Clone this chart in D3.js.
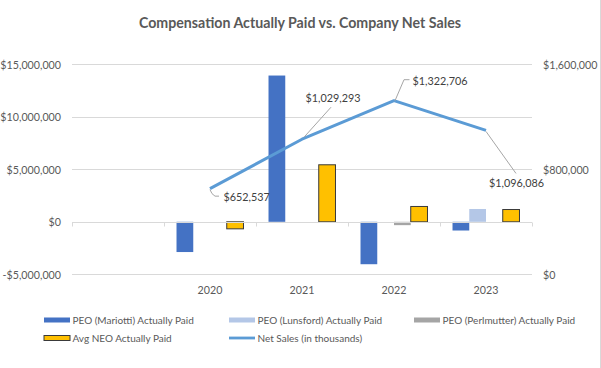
<!DOCTYPE html>
<html><head><meta charset="utf-8">
<script src="https://cdn.jsdelivr.net/npm/d3@7"></script>
<style>
body{margin:0;background:#fff;}
svg{display:block;font-family:Lato,"Open Sans",sans-serif;}
</style></head>
<body>
<script>
const categories = ["", "2020", "2021", "2022", "2023"];
const years = ["2020", "2021", "2022", "2023"];
const mariotti = [-2880000, 13930000, -4040000, -830000];
const lunsford = [null, null, null, 1220000];
const perlmutter = [null, null, -320000, null];
const avgNeo = [-670000, 5430000, 1460000, 1170000];
const netSales = [652537, 1029293, 1322706, 1096086];
const leftTicks = [-5000000, 0, 5000000, 10000000, 15000000];
const rightTicks = [0, 800000, 1600000];
const seriesNames = ["PEO (Mariotti) Actually Paid", "PEO (Lunsford) Actually Paid", "PEO (Perlmutter) Actually Paid", "Avg NEO Actually Paid", "Net Sales (in thousands)"];
const title = "Compensation Actually Paid vs. Company Net Sales";

const W = 601, H = 368;
const colors = ["#4472C4", "#B4C7E7", "#A5A5A5", "#FFC000", "#5B9BD5"];
const barSeries = [mariotti, lunsford, perlmutter, avgNeo];

const svg = d3.select("body").append("svg").attr("width", W).attr("height", H);
svg.append("rect").attr("width", W).attr("height", H).attr("fill", "#fff");
svg.append("line").attr("x1", 600.5).attr("x2", 600.5).attr("y1", 0).attr("y2", H).attr("stroke", "#D9D9D9");

const x = d3.scaleBand().domain(categories).range([72, 532]).paddingInner(0).paddingOuter(0);
const yL = d3.scaleLinear().domain([-5000000, 15000000]).range([274.3, 64.3]);
const yR = d3.scaleLinear().domain([0, 1600000]).range([274.3, 64.3]);
const bw = x.bandwidth();
const inner = d3.scaleBand().domain([0, 1, 2, 3]).range([0, bw * 0.728]);

const txt = "#595959";
const axisFont = 10.7;
svg.append("text").attr("x", 300).attr("y", 22).attr("text-anchor", "middle")
  .attr("dominant-baseline", "central").attr("font-weight", "bold").attr("font-size", 14.2)
  .attr("fill", txt).text(title);

// gridlines
leftTicks.forEach(t => {
  if (t === 0) return;
  svg.append("line").attr("x1", 72).attr("x2", 532).attr("y1", Math.round(yL(t)) + 0.5).attr("y2", Math.round(yL(t)) + 0.5)
    .attr("stroke", "#D9D9D9");
});
// axis labels
const fmt = d3.format("$,");
const fmtL = v => v < 0 ? "-$" + d3.format(",")(-v) : "$" + d3.format(",")(v);
svg.append("g").selectAll("text").data(leftTicks).join("text")
  .attr("x", 61).attr("y", d => yL(d)).attr("text-anchor", "end").attr("dominant-baseline", "central")
  .attr("font-size", axisFont).attr("fill", txt).text(fmtL);
svg.append("g").selectAll("text").data(rightTicks).join("text")
  .attr("x", 543).attr("y", d => yR(d)).attr("text-anchor", "start").attr("dominant-baseline", "central")
  .attr("font-size", axisFont).attr("fill", txt).text(d => fmt(d));

// bars
barSeries.forEach((s, i) => {
  svg.append("g").selectAll("rect").data(years.map((yr, j) => ({yr, v: s[j]})).filter(d => d.v != null)).join("rect")
    .attr("x", d => x(d.yr) + bw * 0.136 + inner(i))
    .attr("width", inner.bandwidth())
    .attr("y", d => yL(Math.max(0, d.v)))
    .attr("height", d => Math.abs(yL(d.v) - yL(0)))
    .attr("fill", colors[i])
    .attr("stroke", i === 3 ? "#3a3a3a" : "none").attr("stroke-width", 1);
});

// zero axis line + ticks
const y0 = Math.round(yL(0)) + 0.5;
svg.append("line").attr("x1", 72).attr("x2", 532).attr("y1", y0).attr("y2", y0).attr("stroke", "#D9D9D9");
categories.forEach(c => {
  const xx = Math.round(x(c)) + 0.5;
  svg.append("line").attr("x1", xx).attr("x2", xx).attr("y1", y0).attr("y2", y0 + 4).attr("stroke", "#D9D9D9");
});
svg.append("line").attr("x1", 532.5).attr("x2", 532.5).attr("y1", y0).attr("y2", y0 + 4).attr("stroke", "#D9D9D9");

// x labels
svg.append("g").selectAll("text").data(years).join("text")
  .attr("x", d => x(d) + bw / 2).attr("y", 289.5).attr("text-anchor", "middle").attr("dominant-baseline", "central")
  .attr("font-size", axisFont).attr("fill", txt).text(d => d);

// line
const pts = years.map((yr, j) => [x(yr) + bw / 2, yR(netSales[j])]);
svg.append("path").attr("d", d3.line()(pts)).attr("fill", "none").attr("stroke", colors[4])
  .attr("stroke-width", 3).attr("stroke-linejoin", "round").attr("stroke-linecap", "butt");

// data labels with leader lines (offsets relative to points)
const labelLayout = [
  {dx: 13.5, dy: 7.5, anchor: "start", leader: [[0, 1], [2, 5], [5, 7.5], [9, 7.5]]},
  {dx: 31, dy: -42, anchor: "middle", leader: [[2, -2], [29, -32]]},
  {dx: 18.5, dy: -20.4, anchor: "start", leader: [[1, 0], [10, -21], [15.5, -21]]},
  {dx: 3, dy: 52, anchor: "start", leader: [[0, 1], [30, 43]]}
];
pts.forEach((p, j) => {
  const L = labelLayout[j];
  svg.append("path").attr("d", d3.line()(L.leader.map(q => [p[0] + q[0], p[1] + q[1]])))
    .attr("fill", "none").attr("stroke", "#A6A6A6").attr("stroke-width", 1);
  svg.append("text").attr("x", p[0] + L.dx).attr("y", p[1] + L.dy).attr("text-anchor", L.anchor)
    .attr("dominant-baseline", "central").attr("font-size", 10.8).attr("fill", "#404040").text(fmt(netSales[j]));
});

// legend
const legendPos = [[44, 320], [229, 320], [414, 320], [44, 338], [229, 338]];
seriesNames.forEach((n, i) => {
  const [lx, ly] = legendPos[i];
  if (i === 4) {
    svg.append("line").attr("x1", lx).attr("x2", lx + 26).attr("y1", ly).attr("y2", ly).attr("stroke", colors[4]).attr("stroke-width", 2.8);
  } else {
    svg.append("rect").attr("x", lx).attr("y", ly - 2.5).attr("width", 26).attr("height", 5).attr("fill", colors[i])
      .attr("stroke", i === 3 ? "#3a3a3a" : "none").attr("stroke-width", 1);
  }
  svg.append("text").attr("x", lx + 28.5).attr("y", ly).attr("dominant-baseline", "central")
    .attr("font-size", 10).attr("fill", txt).text(n);
});
</script>
</body></html>
